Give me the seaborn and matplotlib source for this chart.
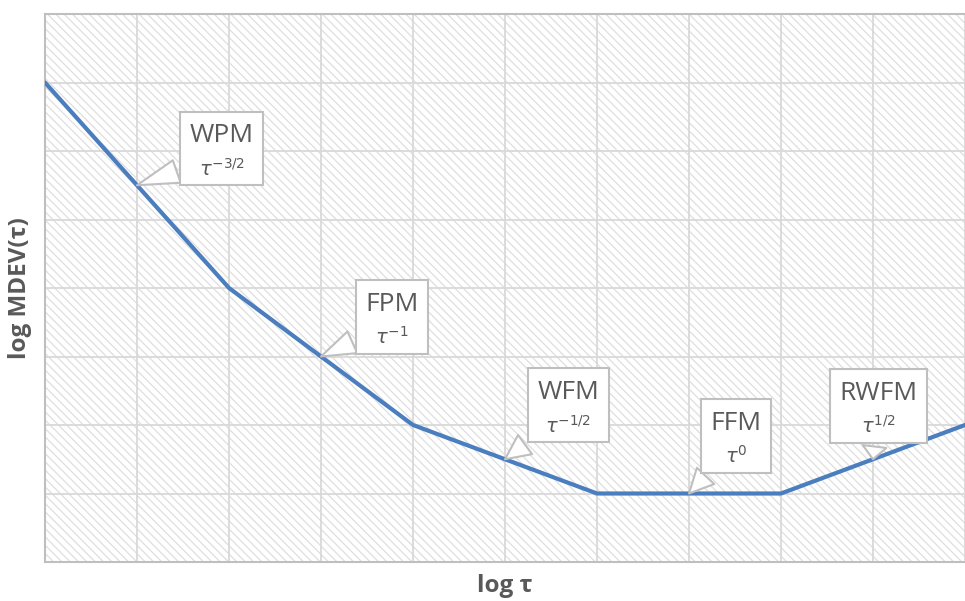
import matplotlib
matplotlib.use("Agg")
import matplotlib.pyplot as plt
import seaborn as sns
import pandas as pd
from matplotlib.patches import Rectangle
from matplotlib.path import Path

# Data
log_tau = [0, 1, 2, 3, 4, 5, 6, 7, 8, 9, 10]
log_mdev = [7, 5.5, 4, 3, 2, 1.5, 1, 1, 1, 1.5, 2]

labels = ["WPM", "FPM", "WFM", "FFM", "RWFM"]
slopes = [r"$\tau^{-3/2}$", r"$\tau^{-1}$", r"$\tau^{-1/2}$", r"$\tau^{0}$", r"$\tau^{1/2}$"]
point_x = [1, 3, 5, 7, 9]
point_y = [5.5, 3, 1.5, 1, 1.5]
label_x = [1.92, 3.77, 5.69, 7.51, 9.06]
label_y = [6.22, 3.76, 2.47, 2.02, 2.46]

df = pd.DataFrame({"x": log_tau, "y": log_mdev})

sns.set_theme(style="white")
plt.rcParams["font.family"] = ["Open Sans", "DejaVu Sans"]
plt.rcParams["hatch.linewidth"] = 0.9
plt.rcParams["hatch.color"] = "#dedede"

fig = plt.figure(figsize=(9.65, 6.01), dpi=100)
ax = fig.add_axes([45/965, 1-562/601, 920/965, 548/601])

ax.add_patch(Rectangle((0, 0), 1, 1, transform=ax.transAxes, fill=False,
                       hatch="\\\\\\\\", lw=0, edgecolor="#dedede", zorder=0))

sns.lineplot(data=df, x="x", y="y", ax=ax, color="#4a7ebf", lw=3.0, zorder=3)

ax.set_xlim(0, 10)
ax.set_ylim(0, 8)
ax.set_xticks(range(0, 11))
ax.set_yticks(range(0, 9))
ax.set_xticklabels([])
ax.set_yticklabels([])
ax.tick_params(length=0)
ax.grid(True, color="#d9d9d9", lw=1.3, zorder=1)
ax.set_axisbelow(True)
for s in ["top", "left", "bottom"]:
    ax.spines[s].set_color("#bfbfbf")
    ax.spines[s].set_linewidth(1.5)
ax.spines["right"].set_visible(False)

ax.set_xlabel("log τ", fontsize=17.5, fontweight="bold", color="#595959", labelpad=5)
ax.set_ylabel("log MDEV(τ)", fontsize=17.5, fontweight="bold", color="#595959", labelpad=6)


def callout_box(x0, y0, width, height, mutation_size):
    # rectangle around the label, extended downwards to hold the slope line
    padx = 0.36 * mutation_size
    top = y0 + height + 0.45 * mutation_size
    bottom = top - 2.8 * mutation_size
    left, right = x0 - padx, x0 + width + padx
    verts = [(left, bottom), (right, bottom), (right, top), (left, top), (left, bottom)]
    return Path(verts, closed=True)


for lab, sl, px, py, bx, by in zip(labels, slopes, point_x, point_y, label_x, label_y):
    ax.annotate(lab, xy=(px, py), xytext=(bx, by),
                textcoords="data", ha="center", va="center",
                fontsize=19, color="#595959", zorder=5,
                bbox=dict(boxstyle=callout_box, fc="white", ec="#bfbfbf", lw=1.5),
                arrowprops=dict(arrowstyle="wedge,tail_width=0.9,shrink_factor=0.5",
                                relpos=(0.5, -0.3), shrinkB=0,
                                fc="white", ec="#bfbfbf", lw=1.5))
    ax.annotate(sl, xy=(bx, by), xytext=(0, -23.5), textcoords="offset points",
                ha="center", va="center", fontsize=14, color="#595959", zorder=6)

fig.savefig("out.png", dpi=100)
